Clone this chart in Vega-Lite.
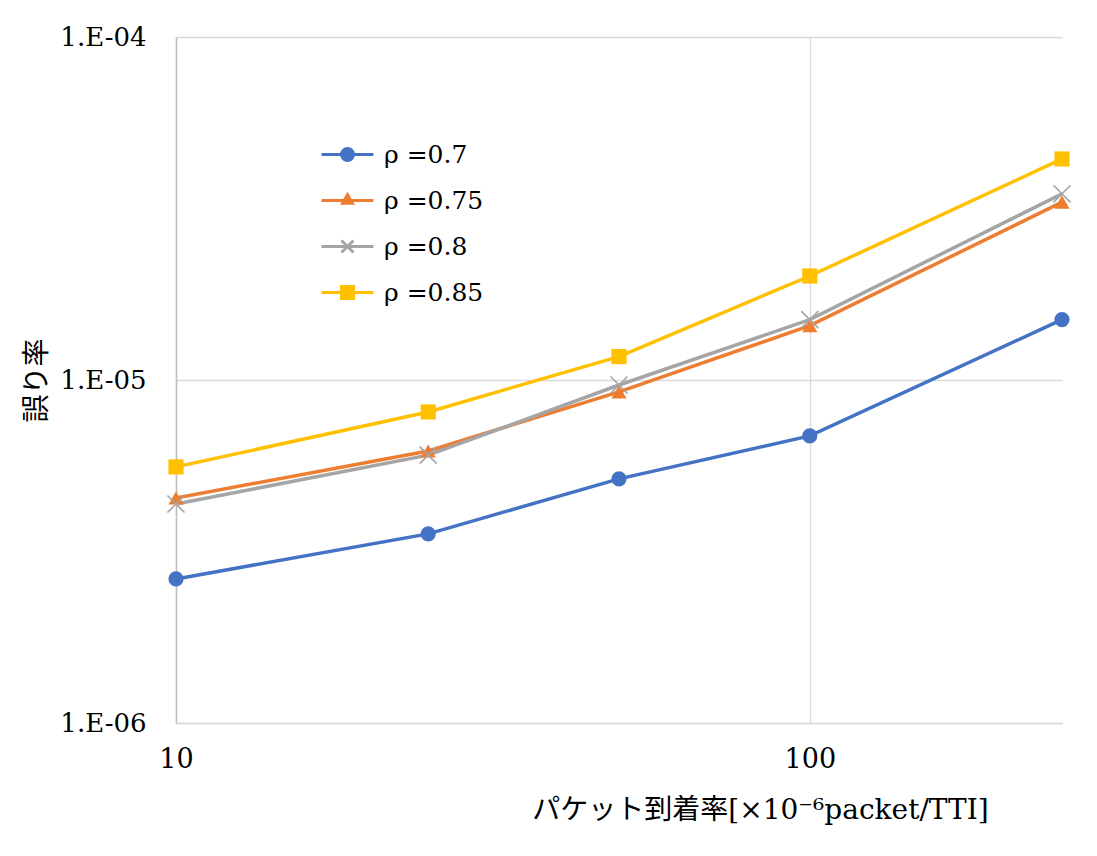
{
  "$schema": "https://vega.github.io/schema/vega-lite/v6.json",
  "width": 886,
  "height": 686,
  "autosize": {"type": "none"},
  "padding": {"left": 176, "top": 37, "right": 35, "bottom": 133},
  "background": "white",
  "config": {
    "font": "DejaVu Serif, Noto Sans CJK JP",
    "view": {"stroke": null}
  },
  "data": {
    "values": [
      {"x": 10, "y": 2.63e-6, "series": "ρ =0.7"},
      {"x": 25, "y": 3.56e-6, "series": "ρ =0.7"},
      {"x": 50, "y": 5.15e-6, "series": "ρ =0.7"},
      {"x": 100, "y": 6.87e-6, "series": "ρ =0.7"},
      {"x": 250, "y": 1.5e-5, "series": "ρ =0.7"},
      {"x": 10, "y": 4.53e-6, "series": "ρ =0.75"},
      {"x": 25, "y": 6.21e-6, "series": "ρ =0.75"},
      {"x": 50, "y": 9.23e-6, "series": "ρ =0.75"},
      {"x": 100, "y": 1.44e-5, "series": "ρ =0.75"},
      {"x": 250, "y": 3.3e-5, "series": "ρ =0.75"},
      {"x": 10, "y": 4.35e-6, "series": "ρ =0.8"},
      {"x": 25, "y": 6.04e-6, "series": "ρ =0.8"},
      {"x": 50, "y": 9.67e-6, "series": "ρ =0.8"},
      {"x": 100, "y": 1.5e-5, "series": "ρ =0.8"},
      {"x": 250, "y": 3.49e-5, "series": "ρ =0.8"},
      {"x": 10, "y": 5.58e-6, "series": "ρ =0.85"},
      {"x": 25, "y": 8.07e-6, "series": "ρ =0.85"},
      {"x": 50, "y": 1.17e-5, "series": "ρ =0.85"},
      {"x": 100, "y": 2.01e-5, "series": "ρ =0.85"},
      {"x": 250, "y": 4.41e-5, "series": "ρ =0.85"}
    ]
  },
  "encoding": {
    "x": {
      "field": "x",
      "type": "quantitative",
      "scale": {"type": "log", "domain": [10, 250], "nice": false},
      "axis": {
        "values": [10, 100],
        "labelExpr": "format(datum.value, 'd')",
        "labelFlush": false,
        "ticks": false,
        "labelPadding": 23,
        "labelFontSize": 27,
        "labelColor": "#000",
        "labelFont": "DejaVu Serif",
        "domainColor": "#d9d9d9",
        "domainWidth": 1.5,
        "gridColor": "#d9d9d9",
        "gridWidth": 1.3,
        "title": "パケット到着率[×10⁻⁶packet/TTI]",
        "titleFontSize": 28,
        "titleFontWeight": "normal",
        "titleColor": "#000",
        "titleX": 584,
        "titleY": 87,
        "titleAlign": "center",
        "titleBaseline": "middle"
      }
    },
    "y": {
      "field": "y",
      "type": "quantitative",
      "scale": {"type": "log", "domain": [1e-6, 1e-4], "nice": false},
      "axis": {
        "values": [1e-6, 1e-5, 1e-4],
        "labelExpr": "'1.E-0' + round(-log(datum.value) / LN10)",
        "ticks": false,
        "labelPadding": 30,
        "labelFontSize": 26,
        "labelColor": "#000",
        "labelFont": "DejaVu Serif",
        "domainColor": "#bfbfbf",
        "domainWidth": 1.5,
        "gridColor": "#d9d9d9",
        "gridWidth": 1.3,
        "title": "誤り率",
        "titleFontSize": 28,
        "titleFontWeight": "normal",
        "titleColor": "#000",
        "titleX": -139,
        "titleY": 343,
        "titleAngle": -90,
        "titleAlign": "center",
        "titleBaseline": "middle"
      }
    },
    "color": {
      "field": "series",
      "type": "nominal",
      "scale": {
        "domain": ["ρ =0.7", "ρ =0.75", "ρ =0.8", "ρ =0.85"],
        "range": ["#4472C4", "#ED7D31", "#A5A5A5", "#FFC000"]
      },
      "legend": null
    }
  },
  "layer": [
    {
      "mark": {"type": "line", "strokeWidth": 3.5},
      "encoding": {
        "color": {
          "field": "series",
          "type": "nominal",
          "legend": {
            "title": null,
            "orient": "none",
            "legendX": 155,
            "legendY": 101,
            "padding": 0,
            "labelFontSize": 25,
            "labelFont": "DejaVu Serif",
            "labelColor": "#000",
            "labelLimit": 300,
            "symbolSize": 900,
            "symbolStrokeWidth": 3,
            "labelOffset": 20,
            "rowPadding": 16,
            "encode": {
              "symbols": {
                "update": {
                  "shape": {"signal": "datum.value === 'ρ =0.7' ? 'M-1.73,0H1.73M0.1,0A0.1,0.1 0 1 1 -0.1,0A0.1,0.1 0 1 1 0.1,0ZM0.25,0A0.25,0.25 0 1 1 -0.25,0A0.25,0.25 0 1 1 0.25,0ZM0.4,0A0.4,0.4 0 1 1 -0.4,0A0.4,0.4 0 1 1 0.4,0Z' : datum.value === 'ρ =0.75' ? 'M-1.73,0H1.73M0,-0.15L0.13,0.075L-0.13,0.075ZM0,-0.38L0.33,0.19L-0.33,0.19Z' : datum.value === 'ρ =0.8' ? 'M-1.73,0H1.73M-0.4,-0.4L0.4,0.4M-0.4,0.4L0.4,-0.4' : 'M-1.73,0H1.73M-0.1,-0.1H0.1V0.1H-0.1ZM-0.25,-0.25H0.25V0.25H-0.25ZM-0.4,-0.4H0.4V0.4H-0.4Z'"},
                  "fill": {"signal": "scale('color', datum.value)"},
                  "strokeWidth": {"value": 3},
                  "opacity": {"value": 1}
                }
              }
            }
          }
        }
      }
    },
    {
      "transform": [{"filter": {"field": "series", "equal": "ρ =0.7"}}],
      "mark": {"type": "point", "filled": true, "shape": "circle", "size": 230, "opacity": 1}
    },
    {
      "transform": [{"filter": {"field": "series", "equal": "ρ =0.75"}}],
      "mark": {"type": "point", "filled": true, "shape": "triangle-up", "size": 230, "opacity": 1}
    },
    {
      "transform": [{"filter": {"field": "series", "equal": "ρ =0.8"}}],
      "mark": {"type": "point", "filled": false, "shape": "M-1.15,-1.15L1.15,1.15M-1.15,1.15L1.15,-1.15", "size": 220, "strokeWidth": 1.6, "opacity": 1}
    },
    {
      "transform": [{"filter": {"field": "series", "equal": "ρ =0.85"}}],
      "mark": {"type": "point", "filled": true, "shape": "square", "size": 230, "opacity": 1}
    }
  ]
}
